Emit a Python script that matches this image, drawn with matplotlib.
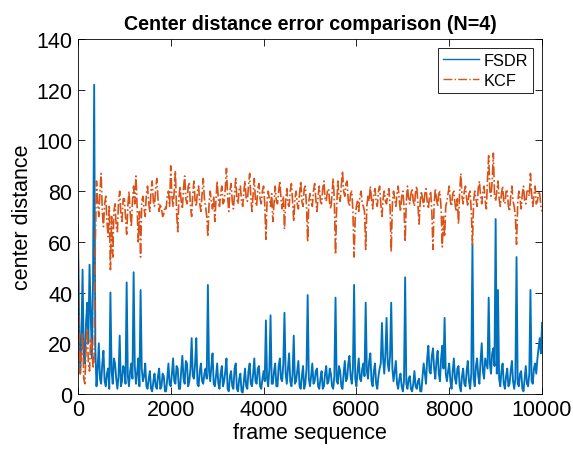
import numpy as np
import matplotlib
matplotlib.use("Agg")
import matplotlib.pyplot as plt

plt.rcParams['font.family'] = ['Liberation Sans', 'DejaVu Sans']

# Sampling step of the stored series (frames)
frame_step = 25

# FSDR center distance error, one value every 25 frames (one row = 1000 frames)
fsdr = [
    66, 30, 8, 22, 49, 15, 12, 28, 36, 20, 51, 33, 14, 44, 122, 18, 3, 10, 20, 6,
    4, 12, 17, 5, 3, 8, 10, 2, 40, 9, 4, 14, 12, 6, 2, 7, 23, 3, 5, 11,
    10, 4, 44, 7, 3, 9, 12, 6, 48, 11, 4, 8, 14, 3, 41, 10, 5, 7, 12, 3,
    2, 6, 9, 2, 1, 5, 8, 3, 2, 7, 10, 2, 3, 8, 7, 1, 1, 6, 12, 4,
    3, 8, 14, 5, 4, 11, 10, 2, 2, 9, 15, 6, 4, 13, 12, 3, 5, 10, 22, 7,
    6, 12, 22, 4, 3, 9, 12, 5, 4, 8, 10, 6, 43, 9, 5, 11, 16, 4, 3, 7,
    12, 4, 2, 8, 11, 3, 5, 9, 14, 2, 1, 7, 9, 3, 2, 10, 12, 2, 1, 6,
    8, 1, 0.5, 5, 10, 3, 2, 9, 12, 4, 3, 8, 14, 5, 4, 10, 11, 3, 2, 6,
    9, 5, 29, 6, 3, 10, 31, 4, 4, 9, 12, 3, 3, 11, 14, 6, 5, 12, 32, 8,
    4, 10, 16, 5, 3, 8, 23, 4, 5, 9, 13, 3, 2, 7, 11, 2, 4, 10, 39, 6,
    3, 7, 12, 4, 5, 9, 10, 3, 2, 6, 9, 2, 3, 8, 11, 4, 5, 10, 8, 3,
    2, 7, 38, 5, 4, 11, 9, 3, 2, 8, 13, 5, 6, 12, 15, 7, 4, 10, 43, 6,
    3, 9, 14, 6, 5, 10, 12, 7, 36, 9, 6, 13, 16, 5, 3, 9, 12, 4, 2, 7,
    10, 12, 28, 14, 8, 16, 30, 12, 9, 15, 36, 10, 5, 9, 13, 4, 2, 6, 8, 3,
    1, 5, 46, 4, 2, 6, 7, 2, 1, 4, 9, 3, 2, 5, 6, 1, 1, 7, 12, 8,
    4, 14, 19, 9, 8, 15, 18, 10, 6, 13, 17, 8, 5, 14, 19, 10, 30, 8, 5, 9,
    12, 5, 2, 9, 14, 6, 4, 10, 11, 3, 1, 7, 10, 4, 3, 9, 13, 5, 2, 8,
    59, 6, 3, 11, 14, 7, 4, 13, 20, 9, 6, 14, 12, 10, 38, 12, 8, 16, 18, 11,
    69, 8, 41, 6, 3, 9, 12, 4, 2, 7, 10, 3, 4, 9, 13, 5, 2, 6, 54, 4,
    3, 8, 9, 2, 1, 6, 11, 4, 3, 8, 41, 5, 4, 10, 12, 8, 14, 18, 22, 16,
    28,
]

# KCF center distance error, one value every 25 frames (one row = 1000 frames)
kcf = [
    66, 20, 8, 16, 24, 6, 4, 18, 26, 12, 9, 22, 20, 10, 14, 60, 84, 76, 70, 80,
    87, 72, 66, 75, 78, 68, 62, 74, 49, 70, 54, 72, 75, 66, 64, 76, 80, 71, 68, 77,
    77, 70, 63, 74, 80, 72, 66, 76, 82, 75, 86, 74, 60, 72, 54, 76, 78, 73, 70, 79,
    82, 75, 72, 80, 84, 76, 74, 81, 85, 77, 72, 75, 73, 70, 71, 74, 73, 78, 80, 74,
    90, 78, 74, 80, 88, 72, 64, 77, 82, 76, 73, 81, 86, 77, 75, 82, 83, 74, 70, 79,
    84, 76, 74, 80, 82, 75, 72, 79, 85, 77, 74, 70, 62, 75, 80, 76, 73, 78, 68, 77,
    84, 77, 74, 79, 82, 75, 76, 81, 89, 78, 72, 80, 83, 76, 73, 79, 85, 77, 75, 81,
    82, 76, 74, 80, 84, 77, 76, 82, 87, 78, 72, 79, 85, 76, 74, 81, 83, 77, 75, 80,
    82, 75, 61, 76, 80, 77, 74, 79, 68, 75, 82, 76, 75, 80, 84, 77, 73, 78, 65, 76,
    81, 75, 74, 80, 83, 76, 68, 77, 80, 75, 73, 79, 84, 76, 74, 81, 82, 74, 60, 76,
    79, 76, 74, 80, 83, 77, 72, 78, 82, 76, 75, 81, 84, 77, 76, 80, 81, 75, 73, 79,
    85, 76, 55, 74, 84, 78, 76, 82, 88, 80, 78, 83, 84, 76, 74, 79, 80, 72, 54, 70,
    74, 76, 72, 78, 80, 75, 74, 72, 57, 74, 78, 76, 82, 77, 73, 79, 81, 76, 74, 80,
    82, 75, 70, 77, 80, 76, 75, 79, 81, 74, 56, 75, 80, 77, 74, 79, 82, 76, 72, 78,
    80, 74, 60, 76, 82, 77, 75, 79, 81, 76, 74, 80, 82, 75, 67, 76, 80, 77, 74, 79,
    81, 76, 73, 78, 80, 72, 57, 75, 81, 77, 74, 79, 80, 73, 58, 70, 62, 74, 76, 79,
    82, 76, 74, 79, 80, 75, 72, 77, 67, 80, 87, 78, 75, 80, 82, 77, 74, 79, 80, 72,
    59, 76, 80, 77, 74, 81, 84, 78, 75, 80, 82, 76, 73, 85, 94, 80, 78, 84, 95, 79,
    76, 80, 84, 77, 74, 79, 82, 76, 75, 80, 80, 74, 72, 78, 82, 76, 74, 70, 59, 75,
    80, 77, 73, 79, 82, 76, 75, 80, 80, 78, 87, 79, 74, 78, 82, 75, 76, 80, 79, 74,
    72,
]

frames_fsdr = np.arange(len(fsdr)) * frame_step
frames_kcf = np.arange(len(kcf)) * frame_step

blue = '#0072BD'
orange = '#D95319'

fig = plt.figure(figsize=(5.73, 4.56), dpi=100)
ax = fig.add_axes([0.136, 0.134, 0.810, 0.778])

ax.plot(frames_fsdr, fsdr, color=blue, lw=1.35, ls='-', label='FSDR')
ax.plot(frames_kcf, kcf, color=orange, lw=1.2, ls='-.', label='KCF')

ax.set_xlim(0, 10000)
ax.set_ylim(0, 140)
ax.set_xticks(np.arange(0, 10001, 2000))
ax.set_yticks(np.arange(0, 141, 20))

ax.tick_params(direction='in', length=5, width=0.6, labelsize=15.5,
               top=True, right=True, pad=4)
for s in ax.spines.values():
    s.set_linewidth(0.6)

ax.set_title('Center distance error comparison (N=4)', fontsize=14.2,
             fontweight='bold', pad=7)
ax.set_xlabel('frame sequence', fontsize=15.5, labelpad=1)
ax.set_ylabel('center distance', fontsize=15.5, labelpad=2)

leg = ax.legend(loc='upper right', fontsize=11.8, frameon=True, fancybox=False,
                edgecolor='black', framealpha=1, borderpad=0.3,
                handlelength=2.2, handletextpad=0.3, labelspacing=0.3,
                borderaxespad=0.55)
leg.get_frame().set_linewidth(0.6)
for line in leg.get_lines():
    line.set_linewidth(1.0)

fig.savefig('out.png', dpi=100)
